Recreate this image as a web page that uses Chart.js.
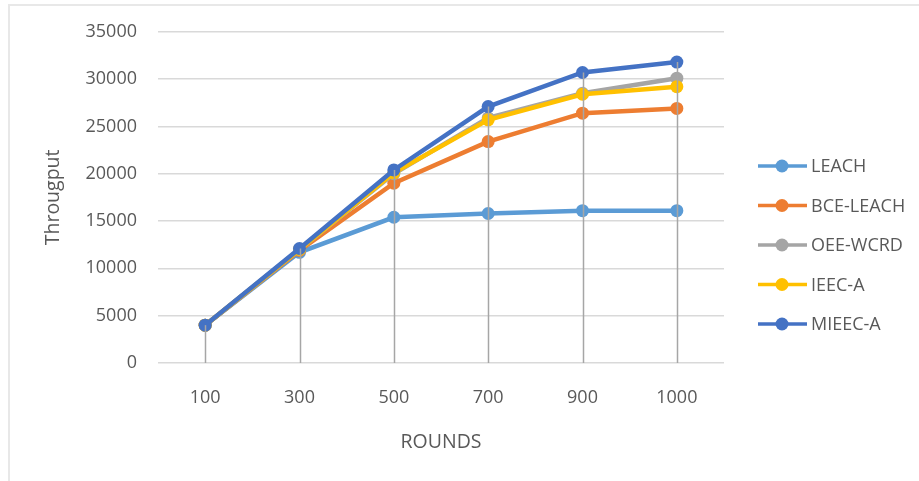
<!DOCTYPE html>
<html>
<head>
<meta charset="utf-8">
<script src="https://cdn.jsdelivr.net/npm/chart.js@4.4.1/dist/chart.umd.min.js"></script>
<style>
  html, body { margin: 0; padding: 0; background: #fff; }
  #wrap { position: relative; width: 919px; height: 481px; overflow: hidden; }
  #frame { position: absolute; left: 8px; top: 4px; width: 960px; height: 520px;
           border: 2px solid #e8e8e8; box-sizing: border-box; }
  canvas { position: absolute; left: 0; top: 0; }
</style>
</head>
<body>
<div id="wrap">
  <div id="frame"></div>
  <canvas id="c" width="919" height="481"></canvas>
</div>
<script>
// Simulation rounds on the horizontal axis
const rounds = ['100', '300', '500', '700', '900', '1000'];

// Throughput per protocol
const leach    = [4000, 11700, 15400, 15800, 16100, 16100];
const bceLeach = [4000, 11900, 19000, 23400, 26400, 26900];
const oeeWcrd  = [4000, 12000, 20000, 25900, 28500, 30100];
const ieecA    = [4000, 12000, 20100, 25700, 28400, 29200];
const mieecA   = [4000, 12100, 20400, 27100, 30700, 31800];

const seriesNames = ['LEACH', 'BCE-LEACH', 'OEE-WCRD', 'IEEC-A', 'MIEEC-A'];
const seriesData = [leach, bceLeach, oeeWcrd, ieecA, mieecA];
const seriesColors = ['#5B9BD5', '#ED7D31', '#A5A5A5', '#FFC000', '#4472C4'];

const FONT = "'Open Sans', 'Liberation Sans', sans-serif";
const TEXT = '#595959';

// Vertical drop lines from the highest point of each category to the axis
const dropLines = {
  id: 'dropLines',
  afterDatasetsDraw(chart) {
    const { ctx, scales: { x, y } } = chart;
    ctx.save();
    ctx.strokeStyle = '#A6A6A6';
    ctx.lineWidth = 1.5;
    rounds.forEach((r, i) => {
      const top = Math.max(...seriesData.map(s => s[i]));
      const px = Math.round(x.getPixelForValue(i)) + 0.5;
      ctx.beginPath();
      ctx.moveTo(px, y.getPixelForValue(top));
      ctx.lineTo(px, y.getPixelForValue(0));
      ctx.stroke();
    });
    ctx.restore();
  }
};

// Legend on the right: line segment with a round marker, then the name
const sideLegend = {
  id: 'sideLegend',
  afterDraw(chart) {
    const { ctx } = chart;
    const x0 = 758, x1 = 807, mx = 782, tx = 811;
    const yStart = 166, step = 39.5;
    ctx.save();
    ctx.font = '18px ' + FONT;
    ctx.textBaseline = 'middle';
    ctx.textAlign = 'left';
    chart.data.datasets.forEach((ds, i) => {
      const yy = yStart + i * step;
      ctx.strokeStyle = ds.borderColor;
      ctx.lineWidth = 3.5;
      ctx.beginPath();
      ctx.moveTo(x0, yy);
      ctx.lineTo(x1, yy);
      ctx.stroke();
      ctx.fillStyle = ds.borderColor;
      ctx.beginPath();
      ctx.arc(mx, yy, 6.5, 0, Math.PI * 2);
      ctx.fill();
      ctx.fillStyle = TEXT;
      ctx.fillText(ds.label, tx, yy + 1);
    });
    ctx.restore();
  }
};

new Chart(document.getElementById('c'), {
  type: 'line',
  data: {
    labels: rounds,
    datasets: seriesNames.map((name, i) => ({
      label: name,
      data: seriesData[i],
      borderColor: seriesColors[i],
      backgroundColor: seriesColors[i],
      pointBackgroundColor: seriesColors[i],
      pointBorderColor: seriesColors[i],
      borderWidth: 4.5,
      pointRadius: 6.5,
      pointBorderWidth: 0,
      tension: 0,
      order: -i
    }))
  },
  options: {
    responsive: false,
    animation: false,
    devicePixelRatio: 1,
    layout: { padding: { left: 8, right: 195, top: 31, bottom: 10 } },
    plugins: {
      legend: { display: false },
      tooltip: { enabled: false }
    },
    scales: {
      x: {
        offset: true,
        grid: { display: false, drawTicks: false },
        border: { display: false },
        ticks: { color: TEXT, font: { family: FONT, size: 18 }, padding: 24, maxRotation: 0 },
        title: { display: true, text: 'ROUNDS', color: TEXT,
                 font: { family: FONT, size: 19.5 }, padding: { top: 0, bottom: 17 } },
        afterFit(s) { s.height = 481 - 10 - 363; }
      },
      y: {
        min: 0,
        max: 35000,
        ticks: { stepSize: 5000, color: TEXT, font: { family: FONT, size: 18 }, padding: 21,
                 callback: v => String(v) },
        grid: { color: '#D9D9D9', lineWidth: 1.5, drawTicks: false },
        border: { display: false },
        title: { display: true, text: 'Througput', color: TEXT,
                 font: { family: FONT, size: 19.5 }, padding: { top: 34, bottom: 0 } },
        afterFit(s) { s.width = 150; }
      }
    }
  },
  plugins: [dropLines, sideLegend]
});
</script>
</body>
</html>
